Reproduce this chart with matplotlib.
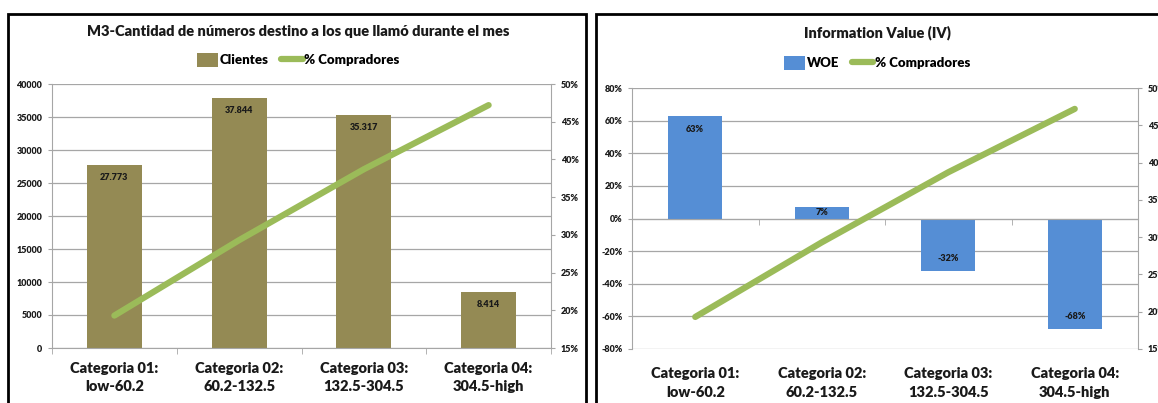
import numpy as np
import matplotlib
matplotlib.use('Agg')
import matplotlib.pyplot as plt
from matplotlib.patches import Rectangle
from matplotlib.ticker import FuncFormatter, FixedLocator

plt.rcParams['font.family'] = ['Lato', 'DejaVu Sans']
NEGRITA = 'heavy'

# ===================== DATA =====================
categorias = ['Categoria 01:\nlow-60.2', 'Categoria 02:\n60.2-132.5',
              'Categoria 03:\n132.5-304.5', 'Categoria 04:\n304.5-high']
clientes = [27773, 37844, 35317, 8414]
woe = [0.63, 0.07, -0.32, -0.68]
pct_compradores = [0.193, 0.293, 0.387, 0.472]

titulo_izq = 'M3-Cantidad de números destino a los que llamó durante el mes'
titulo_der = 'Information Value (IV)'

OLIVA = '#948A54'
AZUL = '#558ED5'
VERDE = '#9BBB59'
GRIS = '#A6A6A6'
TXT = '#1A1A1A'

W, H = 1158, 403
fig = plt.figure(figsize=(W / 100, H / 100), dpi=100)


def px_axes(x0, y0, x1, y1):
    return fig.add_axes([x0 / W, 1 - y1 / H, (x1 - x0) / W, (y1 - y0) / H])


def fmt_pct(v, p=None):
    r = round(v * 100)
    return f'{abs(r) if r == 0 else r:.0f}%'


def estilo(ax, ax2):
    for a in (ax, ax2):
        for s in a.spines.values():
            s.set_visible(False)
    ax.spines['left'].set_visible(True)
    ax.spines['left'].set_color(GRIS)
    ax2.spines['right'].set_visible(True)
    ax2.spines['right'].set_color(GRIS)
    ax.yaxis.grid(True, color=GRIS, lw=0.9)
    ax.set_axisbelow(True)
    ax.tick_params(axis='y', length=3, color=GRIS, labelsize=6.5, labelcolor=TXT, pad=4)
    ax2.tick_params(axis='y', length=3, color=GRIS, labelsize=6.5, labelcolor=TXT, pad=4)
    for lab in ax.get_yticklabels() + ax2.get_yticklabels():
        lab.set_fontweight(NEGRITA)
    ax.set_xlim(-0.5, 3.5)
    ax.xaxis.set_minor_locator(FixedLocator(np.arange(-0.5, 4, 1)))
    ax.tick_params(axis='x', which='minor', length=4, color=GRIS)
    ax.tick_params(axis='x', which='major', length=0)


pct = FuncFormatter(fmt_pct)
x = np.arange(len(categorias))

# -------- LEFT CHART --------
ax = px_axes(52, 84, 551, 348)
ax2 = ax.twinx()
barras = ax.bar(x, clientes, width=0.44, color=OLIVA, label='Clientes', zorder=2)
linea, = ax2.plot(x, pct_compradores, color=VERDE, lw=4.5, solid_capstyle='round',
                  label='% Compradores')
ax.set_ylim(0, 40000)
ax.set_yticks(np.arange(0, 40001, 5000))
ax2.set_ylim(0.15, 0.50)
ax2.set_yticks(np.arange(0.15, 0.501, 0.05))
ax2.yaxis.set_major_formatter(pct)
estilo(ax, ax2)
ax.spines['bottom'].set_visible(True)
ax.spines['bottom'].set_color(GRIS)
ax.set_xticks(x)
ax.set_xticklabels(categorias, fontsize=10.5, fontweight=NEGRITA, color=TXT, linespacing=1.5)
ax.tick_params(axis='x', which='major', pad=10)
for xi, v in zip(x, clientes):
    ax.annotate(f'{v:,}'.replace(',', '.'), (xi, v), xytext=(0, -9), textcoords='offset points',
                ha='center', va='center', fontsize=6.5, fontweight=NEGRITA, color=TXT, zorder=3)
fig.text(298 / W, 1 - 31 / H, titulo_izq, ha='center', va='center',
         fontsize=10.5, fontweight=NEGRITA, color=TXT)
fig.legend([barras, linea], ['Clientes', '% Compradores'], loc='center',
           bbox_to_anchor=(298 / W, 1 - 60 / H), ncol=2, frameon=False,
           prop={'weight': NEGRITA, 'size': 9.5}, handlelength=1.6, handletextpad=0.1,
           columnspacing=1.0, handleheight=1.2)

# -------- RIGHT CHART --------
bx = px_axes(632, 88, 1138, 349)
bx2 = bx.twinx()
barras2 = bx.bar(x, woe, width=0.43, color=AZUL, label='WOE', zorder=2)
linea2, = bx2.plot(x, pct_compradores, color=VERDE, lw=4.5, solid_capstyle='round',
                   label='% Compradores')
bx.set_ylim(-0.8, 0.8)
bx.set_yticks(np.arange(-0.8, 0.81, 0.2))
bx.yaxis.set_major_formatter(pct)
bx2.set_ylim(0.15, 0.50)
bx2.set_yticks(np.arange(0.15, 0.501, 0.05))
bx2.yaxis.set_major_formatter(pct)
estilo(bx, bx2)
bx.spines['bottom'].set_visible(True)
bx.spines['bottom'].set_color(GRIS)
bx.spines['bottom'].set_position(('data', 0))
bx.set_xticks(x)
bx.set_xticklabels([])
for xi, lab in zip(x, categorias):
    bx.text(xi, -0.07, lab, transform=bx.get_xaxis_transform(), ha='center', va='top',
            fontsize=10.5, fontweight=NEGRITA, color=TXT, linespacing=1.5)
for xi, v in zip(x, woe):
    if abs(v) < 0.15:
        off = 0
        y = v / 2
    else:
        off = -10 if v > 0 else 9
        y = v
    bx.annotate(fmt_pct(v), (xi, y), xytext=(0, off), textcoords='offset points',
                ha='center', va='center', fontsize=6.5, fontweight=NEGRITA, color=TXT, zorder=3)
fig.text(877 / W, 1 - 33 / H, titulo_der, ha='center', va='center',
         fontsize=10.5, fontweight=NEGRITA, color=TXT)
fig.legend([barras2, linea2], ['WOE', '% Compradores'], loc='center',
           bbox_to_anchor=(877 / W, 1 - 63 / H), ncol=2, frameon=False,
           prop={'weight': NEGRITA, 'size': 9.5}, handlelength=1.6, handletextpad=0.1,
           columnspacing=1.0, handleheight=1.2)

# -------- FRAMES --------
fig.patches.append(Rectangle((8 / W, -0.05), 578 / W, 1 - 14 / H + 0.05, transform=fig.transFigure,
                             fill=False, ec='black', lw=2))
fig.patches.append(Rectangle((596 / W, -0.05), 0.6, 1 - 14 / H + 0.05, transform=fig.transFigure,
                             fill=False, ec='black', lw=2))

fig.savefig('out.png', dpi=100)
